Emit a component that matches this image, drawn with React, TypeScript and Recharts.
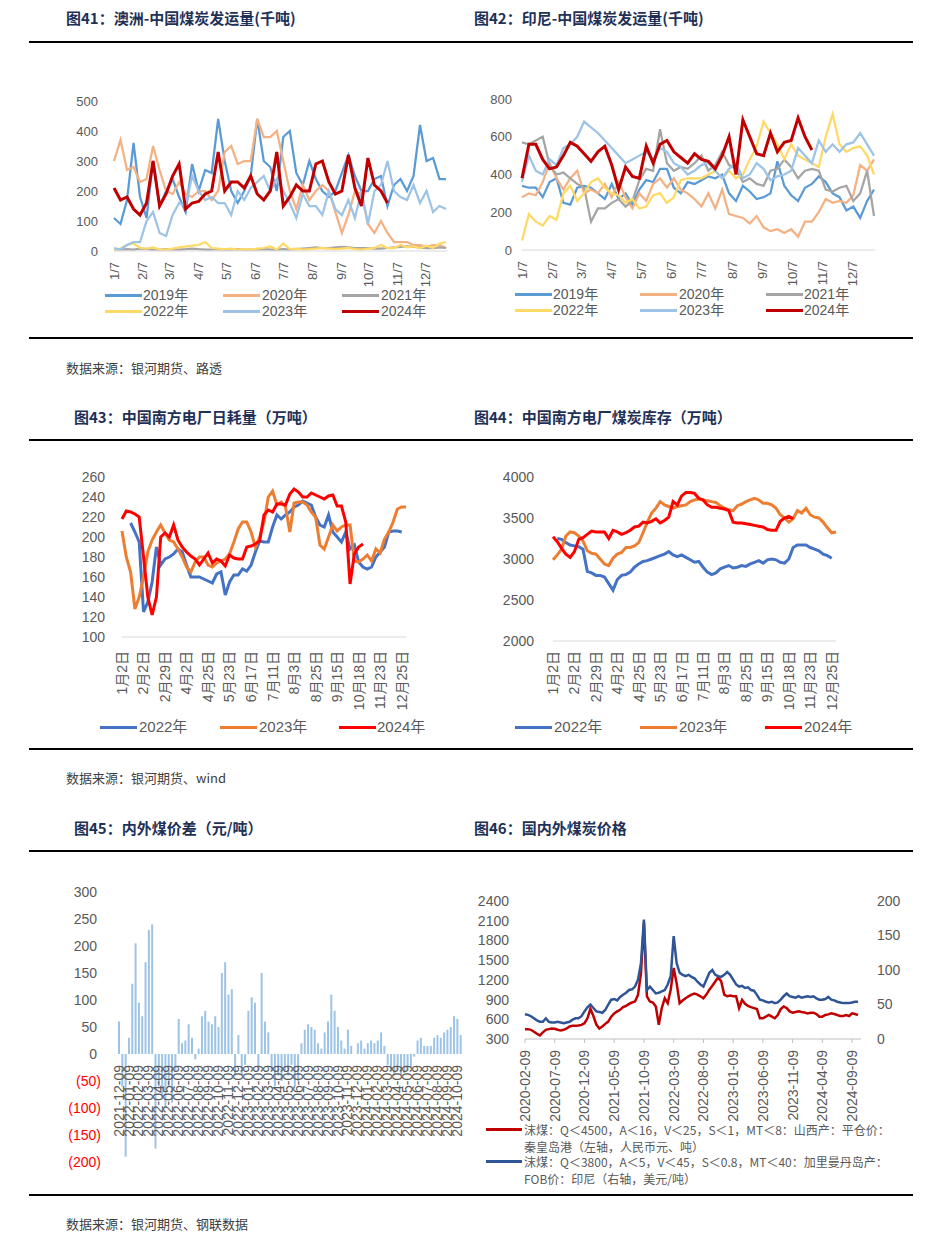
import { LineChart, Line, XAxis, YAxis, BarChart, Bar } from "recharts"

const SANS = '"Liberation Sans", "Noto Sans CJK SC", sans-serif'
const CJK = '"Noto Sans CJK SC", sans-serif'
const GRAY = "#595959"
const NAVY = "#1f3157"

// ---- 图41 / 图42: weekly, first point 1/7 ----
const MONTH_LABELS = ["1/7", "2/7", "3/7", "4/7", "5/7", "6/7", "7/7", "8/7", "9/7", "10/7", "11/7", "12/7"]
const MONTH_DAYS = [0, 31, 60, 91, 121, 152, 182, 213, 244, 274, 305, 335]
const YEAR6 = ["2019年", "2020年", "2021年", "2022年", "2023年", "2024年"]
const COLOR6 = ["#5b9bd5", "#f4b183", "#a5a5a5", "#ffd966", "#9dc3e6", "#c00000"]

const AUS_2019 = [110, 90, 170, 360, 180, 110, 300, 150, 200, 240, 180, 130, 290, 200, 270, 260, 440, 300, 200, 160, 200, 250, 440, 300, 280, 200, 380, 400, 260, 220, 300, 240, 200, 180, 200, 260, 320, 250, 200, 200, 240, 250, 150, 220, 240, 200, 250, 420, 300, 310, 240, 240]
const AUS_2020 = [300, 370, 270, 280, 230, 240, 350, 270, 200, 190, 230, 190, 180, 200, 200, 170, 200, 330, 350, 290, 300, 300, 440, 380, 380, 400, 300, 200, 140, 220, 170, 200, 220, 200, 130, 60, 120, 200, 190, 90, 60, 100, 60, 30, 30, 30, 20, 20, 15, 20, 20, 10]
const AUS_2021 = [5, 5, 6, 5, 8, 6, 5, 5, 6, 5, 5, 6, 8, 6, 5, 5, 6, 5, 5, 6, 5, 5, 5, 6, 5, 5, 6, 5, 6, 8, 10, 12, 10, 10, 12, 14, 12, 10, 10, 10, 8, 8, 10, 12, 14, 15, 14, 12, 10, 10, 12, 10]
const AUS_2022 = [5, 8, 20, 25, 10, 8, 12, 5, 5, 8, 12, 15, 18, 20, 30, 10, 8, 6, 8, 5, 6, 5, 8, 10, 15, 5, 25, 6, 8, 5, 6, 8, 10, 8, 6, 8, 10, 6, 5, 8, 10, 20, 10, 10, 20, 12, 15, 10, 18, 10, 25, 30]
const AUS_2023 = [10, 5, 20, 30, 30, 100, 130, 60, 50, 120, 160, 150, 250, 200, 170, 180, 160, 160, 120, 200, 170, 210, 230, 250, 200, 240, 200, 160, 110, 190, 150, 150, 120, 200, 140, 120, 170, 110, 200, 90, 200, 220, 300, 200, 180, 170, 220, 160, 200, 130, 150, 140]
const AUS_2024 = [210, 170, 180, 140, 120, 160, 300, 150, 190, 250, 290, 140, 160, 165, 190, 200, 330, 200, 230, 230, 210, 250, 190, 170, 200, 330, 150, 180, 220, 200, 200, 290, 300, 230, 190, 200, 320, 210, 150, 310, 220, 200, 160]

const IDN_2019 = [340, 330, 330, 280, 360, 380, 250, 240, 330, 340, 330, 300, 270, 350, 270, 300, 240, 320, 370, 360, 430, 430, 330, 300, 360, 350, 370, 390, 380, 400, 300, 260, 340, 310, 270, 280, 300, 470, 340, 290, 260, 330, 350, 390, 360, 300, 280, 210, 230, 170, 260, 320]
const IDN_2020 = [280, 300, 290, 360, 460, 380, 320, 380, 420, 300, 320, 300, 350, 280, 360, 280, 220, 300, 260, 350, 380, 330, 380, 320, 300, 270, 230, 300, 220, 320, 190, 180, 170, 140, 180, 120, 100, 110, 90, 110, 70, 150, 150, 200, 270, 250, 260, 250, 290, 450, 420, 480]
const IDN_2021 = [570, 560, 580, 600, 450, 400, 410, 380, 350, 330, 150, 220, 220, 250, 270, 230, 260, 370, 430, 420, 640, 460, 420, 440, 430, 460, 500, 420, 450, 520, 450, 430, 360, 380, 350, 340, 420, 430, 480, 440, 380, 420, 430, 420, 320, 310, 330, 340, 260, 300, 420, 180]
const IDN_2022 = [50, 190, 150, 130, 180, 160, 300, 340, 260, 300, 360, 380, 330, 300, 290, 250, 270, 220, 230, 290, 300, 250, 280, 370, 380, 380, 380, 400, 420, 380, 420, 380, 400, 480, 550, 680, 620, 560, 480, 560, 500, 480, 460, 440, 600, 720, 560, 520, 540, 550, 500, 400]
const IDN_2023 = [360, 500, 420, 400, 480, 450, 540, 560, 600, 680, 650, 620, 580, 540, 500, 460, 480, 500, 520, 480, 540, 520, 460, 440, 400, 420, 450, 460, 420, 380, 430, 460, 380, 400, 460, 430, 370, 390, 400, 420, 540, 500, 460, 580, 520, 560, 520, 560, 570, 620, 560, 500]
const IDN_2024 = [380, 560, 560, 480, 430, 440, 500, 570, 550, 510, 470, 520, 550, 450, 320, 440, 390, 380, 550, 460, 560, 580, 520, 490, 460, 510, 480, 470, 430, 500, 600, 400, 690, 600, 510, 500, 620, 520, 570, 580, 700, 600, 530]

// ---- 图43 / 图44 ----
const DATE_LABELS = ["1月2日", "2月2日", "2月29日", "4月2日", "4月25日", "5月23日", "6月17日", "7月11日", "8月3日", "8月25日", "9月15日", "10月18日", "11月23日", "12月25日"]
const YEAR3 = ["2022年", "2023年", "2024年"]
const COLOR3 = ["#4472c4", "#ed7d31", "#ff0000"]

const BURN_2022 = [null, null, 214, 205, 195, 125, 135, 155, 190, 172, 178, 180, 183, 188, 185, 172, 160, 160, 160, 158, 156, 154, 163, 165, 142, 155, 162, 162, 168, 166, 172, 185, 196, 195, 195, 210, 222, 218, 222, 225, 230, 232, 236, 234, 232, 220, 212, 210, 222, 205, 200, 195, 205, 188, 192, 175, 170, 168, 170, 180, 185, 190, 205, 206, 206, 205]
const BURN_2023 = [206, 180, 165, 128, 140, 160, 185, 197, 205, 212, 204, 197, 195, 188, 180, 170, 165, 175, 180, 180, 172, 170, 174, 176, 178, 183, 195, 208, 215, 215, 205, 190, 200, 215, 240, 246, 232, 235, 230, 205, 234, 235, 235, 232, 225, 220, 192, 188, 200, 212, 206, 210, 212, 212, 176, 175, 178, 182, 176, 188, 184, 198, 205, 215, 228, 230, 230]
const BURN_2024 = [218, 226, 225, 223, 220, 180, 140, 122, 140, 200, 204, 200, 212, 197, 190, 185, 181, 178, 172, 178, 184, 174, 178, 176, 171, 182, 179, 178, 178, 190, 191, 193, 196, 222, 227, 225, 233, 233, 232, 243, 248, 245, 240, 240, 244, 242, 240, 238, 241, 242, 231, 231, 215, 153, 183, 190, 193]

const STOCK_2022 = [null, 3250, 3240, 3200, 3170, 3160, 3150, 3120, 2850, 2830, 2800, 2800, 2780, 2700, 2620, 2750, 2800, 2810, 2840, 2900, 2940, 2970, 2980, 3000, 3020, 3040, 3060, 3090, 3050, 3030, 3050, 3020, 2990, 2960, 2970, 2900, 2840, 2810, 2830, 2880, 2900, 2920, 2890, 2900, 2920, 2910, 2940, 2960, 2980, 2950, 2990, 3000, 2990, 2960, 2950, 3000, 3140, 3170, 3170, 3170, 3140, 3120, 3100, 3060, 3040, 3010]
const STOCK_2023 = [2990, 3050, 3120, 3280, 3330, 3320, 3280, 3220, 3100, 3070, 3060, 3000, 2940, 2920, 3010, 3060, 3080, 3140, 3140, 3160, 3200, 3320, 3450, 3560, 3620, 3700, 3660, 3640, 3620, 3640, 3650, 3660, 3700, 3720, 3730, 3720, 3710, 3700, 3690, 3650, 3620, 3600, 3590, 3650, 3670, 3700, 3720, 3740, 3720, 3680, 3680, 3660, 3620, 3540, 3500, 3450, 3490, 3590, 3560, 3620, 3540, 3510, 3500, 3450, 3380, 3320, 3330]
const STOCK_2024 = [3270, 3210, 3130, 3060, 3020, 3090, 3240, 3260, 3300, 3340, 3330, 3330, 3330, 3250, 3350, 3330, 3300, 3320, 3350, 3390, 3400, 3450, 3440, 3460, 3490, 3440, 3470, 3510, 3700, 3660, 3770, 3810, 3810, 3800, 3740, 3720, 3660, 3630, 3630, 3620, 3610, 3590, 3450, 3440, 3440, 3430, 3420, 3410, 3400, 3390, 3360, 3350, 3350, 3460, 3500, 3520, 3490]

// ---- 图45: 3 points per month from 2021-12-09 ----
const GAP_MONTHS = ["2021-12-09", "2022-01-09", "2022-02-09", "2022-03-09", "2022-04-09", "2022-05-09", "2022-06-09", "2022-07-09", "2022-08-09", "2022-09-09", "2022-10-09", "2022-11-09", "2022-12-09", "2023-01-09", "2023-02-09", "2023-03-09", "2023-04-09", "2023-05-09", "2023-06-09", "2023-07-09", "2023-08-09", "2023-09-09", "2023-10-09", "2023-11-09", "2023-12-09", "2024-01-09", "2024-02-09", "2024-03-09", "2024-04-09", "2024-05-09", "2024-06-09", "2024-07-09", "2024-08-09", "2024-09-09", "2024-10-09"]
const PRICE_GAP = [60, -60, -190, 30, 130, 205, 95, 70, 170, 230, 240, -175, -60, -80, -100, -60, -90, -30, 65, 20, 25, 55, 30, -10, 10, 70, 80, 60, 55, 70, 50, 150, 170, 110, 120, -40, 35, -40, -20, 80, 105, 95, -30, 150, 60, 40, -30, -60, -40, -50, -30, -40, -20, -60, -50, 20, 45, 55, 50, 45, 20, 10, 40, 60, 110, 80, 50, 25, 10, 45, 15, 0, 20, 25, 10, 20, 25, 20, 25, 40, 15, -20, -30, -40, -30, -40, -35, -30, -25, -5, 25, 30, 15, 15, 15, 30, 35, 30, 40, 45, 50, 70, 65, 35]

// ---- 图46: half-monthly from 2020-02-09 ----
const PRICE_TICK_LABELS = ["2020-02-09", "2020-07-09", "2020-12-09", "2021-05-09", "2021-10-09", "2022-03-09", "2022-08-09", "2023-01-09", "2023-06-09", "2023-11-09", "2024-04-09", "2024-09-09"]
const SHANXI_CNY = [450, 450, 440, 410, 380, 355, 400, 440, 450, 460, 455, 440, 430, 440, 460, 490, 500, 500, 505, 515, 540, 615, 760, 650, 520, 460, 490, 530, 565, 640, 690, 720, 745, 785, 805, 835, 855, 870, 970, 1300, 2070, 950, 870, 855, 795, 515, 770, 920, 845, 1050, 1380, 1150, 845, 885, 920, 950, 975, 990, 975, 950, 920, 975, 1050, 1110, 1175, 1240, 1175, 975, 950, 960, 950, 950, 770, 895, 835, 805, 785, 770, 755, 615, 615, 640, 665, 640, 615, 665, 755, 795, 770, 720, 700, 710, 720, 710, 705, 690, 700, 700, 680, 640, 640, 665, 675, 690, 680, 665, 650, 650, 665, 650, 690, 680, 665]
const INDO_USD = [36, 35, 33, 30, 27, 25, 25, 30, 25, 24, 24, 25, 24, 23, 24, 25, 28, 30, 30, 33, 40, 46, 50, 45, 40, 39, 38, 42, 50, 57, 58, 56, 61, 64, 67, 71, 72, 76, 86, 110, 173, 71, 76, 71, 66, 67, 69, 71, 79, 91, 149, 110, 96, 93, 91, 93, 90, 88, 83, 79, 76, 86, 96, 100, 93, 91, 90, 93, 97, 93, 86, 79, 76, 77, 74, 75, 71, 70, 64, 57, 56, 54, 53, 54, 52, 53, 57, 62, 66, 62, 61, 60, 62, 60, 61, 62, 61, 62, 59, 57, 57, 58, 61, 57, 56, 54, 53, 52, 52, 52, 53, 54, 54]

function buildRows(series: (number | null)[][], step: number) {
  const n = Math.max(...series.map(s => s.length))
  return Array.from({ length: n }, (_, i) => {
    const r: Record<string, number | null> = { d: i * step }
    series.forEach((s, k) => { r["s" + k] = s[i] ?? null })
    return r
  })
}

const rows41 = buildRows([AUS_2019, AUS_2020, AUS_2021, AUS_2022, AUS_2023, AUS_2024], 7)
const rows42 = buildRows([IDN_2019, IDN_2020, IDN_2021, IDN_2022, IDN_2023, IDN_2024], 7)
const rows43 = buildRows([BURN_2022, BURN_2023, BURN_2024], 1)
const rows44 = buildRows([STOCK_2022, STOCK_2023, STOCK_2024], 1)
const rows45 = PRICE_GAP.map((v, i) => ({ i, v }))
const rows46 = SHANXI_CNY.map((v, i) => ({ d: i, cny: v, usd: INDO_USD[i] }))

// rotated category label
function RotTick(props: any) {
  const { x, y, payload, fmt, gap, fontSize, shift = 0 } = props
  return (
    <g transform={`translate(${x},${y - shift})`}>
      <text transform="rotate(-90)" x={-gap} y={0} dy="0.35em" textAnchor="end" fill={GRAY} fontSize={fontSize} fontFamily={SANS}>
        {fmt(payload.value)}
      </text>
    </g>
  )
}

function GapTick(props: any) {
  const { x, y, payload } = props
  const v = payload.value as number
  const neg = v < 0
  return (
    <text x={neg ? x : x - 4} y={y} dy="0.35em" textAnchor="end" fill={neg ? "#ff0000" : GRAY} fontSize={14} fontFamily={SANS}>
      {neg ? `(${-v})` : v}
    </text>
  )
}

function LegendItem({ x, tx, y, color, label, size, w = 37 }: { x: number; tx: number; y: number; color: string; label: string; size: number; w?: number }) {
  return (
    <>
      <div style={{ position: "absolute", left: x, top: y - 1.5, width: w, height: 3, background: color }} />
      <div style={{ position: "absolute", left: tx, top: y - 10, lineHeight: "20px", fontSize: size, color: GRAY, fontFamily: SANS, whiteSpace: "nowrap" }}>{label}</div>
    </>
  )
}

function Rule({ top }: { top: number }) {
  return <div style={{ position: "absolute", left: 29, top, width: 884, height: 2, background: "#000" }} />
}

function Title({ left, top, children }: { left: number; top: number; children: string }) {
  return (
    <div style={{ position: "absolute", left, top: top - 10, lineHeight: "20px", fontSize: 15, fontWeight: 700, color: NAVY, fontFamily: CJK, whiteSpace: "nowrap" }}>{children}</div>
  )
}

function Source({ top, children }: { top: number; children: string }) {
  return (
    <div style={{ position: "absolute", left: 66, top: top - 10, lineHeight: "20px", fontSize: 13, color: "#404040", fontFamily: CJK, whiteSpace: "nowrap" }}>{children}</div>
  )
}

const monthFmt = (v: number) => MONTH_LABELS[MONTH_DAYS.indexOf(v)] ?? ""
const dateFmt = (v: number) => DATE_LABELS[Math.round(v / 5)] ?? ""
const gapFmt = (v: number) => GAP_MONTHS[Math.round(v / 3)] ?? ""
const priceFmt = (v: number) => PRICE_TICK_LABELS[Math.round(v / 10)] ?? ""

const DATE_TICKS = DATE_LABELS.map((_, i) => i * 5)
const PRICE_TICKS = PRICE_TICK_LABELS.map((_, i) => i * 10)

function SeasonChart({ rows, max, step, width, height, yWidth, yMargin }: { rows: any[]; max: number; step: number; width: number; height: number; yWidth: number; yMargin: number }) {
  const yTicks = Array.from({ length: max / step + 1 }, (_, i) => i * step)
  return (
    <LineChart width={width} height={height} data={rows} margin={{ top: 11, right: 5, left: 0, bottom: 0 }}>
      <XAxis type="number" dataKey="d" domain={[0, 358]} ticks={MONTH_DAYS} interval={0} height={37}
        axisLine={{ stroke: "#d9d9d9" }} tickLine={false} tickSize={0} tickMargin={0}
        tick={(p: any) => <RotTick {...p} fmt={monthFmt} gap={11} fontSize={13} />} />
      <YAxis type="number" domain={[0, max]} ticks={yTicks} interval={0} width={yWidth} axisLine={false} tickLine={false}
        tickMargin={yMargin} tick={{ fontSize: 13, fill: GRAY, fontFamily: SANS }} />
      {COLOR6.map((c, k) => (
        <Line key={k} dataKey={"s" + k} stroke={c} strokeWidth={k === 5 ? 3 : 2.25} dot={false} isAnimationActive={false} connectNulls={false} />
      ))}
    </LineChart>
  )
}

function PlantChart({ rows, min, max, step, width, height, yWidth, yMargin, gap }: { rows: any[]; min: number; max: number; step: number; width: number; height: number; yWidth: number; yMargin: number; gap: number }) {
  const yTicks = Array.from({ length: (max - min) / step + 1 }, (_, i) => min + i * step)
  return (
    <LineChart width={width} height={height} data={rows} margin={{ top: 11, right: 5, left: 0, bottom: 0 }}>
      <XAxis type="number" dataKey="d" domain={[0, 66]} ticks={DATE_TICKS} interval={0} height={85}
        axisLine={{ stroke: "#d9d9d9" }} tickLine={false} tickSize={0} tickMargin={0}
        tick={(p: any) => <RotTick {...p} fmt={dateFmt} gap={gap} fontSize={14} />} />
      <YAxis type="number" domain={[min, max]} ticks={yTicks} interval={0} width={yWidth} axisLine={false} tickLine={false}
        tickMargin={yMargin} tick={{ fontSize: 14, fill: GRAY, fontFamily: SANS }} />
      {COLOR3.map((c, k) => (
        <Line key={k} dataKey={"s" + k} stroke={c} strokeWidth={3} dot={false} isAnimationActive={false} connectNulls={false} />
      ))}
    </LineChart>
  )
}

export default function App() {
  const h45 = 297
  const plotH45 = h45 - 12 - 15
  const shift45 = plotH45 * 200 / 500
  return (
    <div style={{ position: "absolute", left: 0, top: 0, width: 943, height: 1237, background: "#fff", overflow: "hidden" }}>
      <Title left={66} top={18}>图41：澳洲-中国煤炭发运量(千吨)</Title>
      <Title left={474} top={18}>图42：印尼-中国煤炭发运量(千吨)</Title>
      <Rule top={41} />

      <div style={{ position: "absolute", left: 60, top: 90 }}>
        <SeasonChart rows={rows41} max={500} step={100} width={392} height={198} yWidth={54} yMargin={10} />
      </div>
      {YEAR6.map((y, k) => (
        <LegendItem key={y} x={[105, 223, 342][k % 3]} tx={[143, 262, 381][k % 3]} y={k < 3 ? 295 : 311} color={COLOR6[k]} label={y} size={14} />
      ))}

      <div style={{ position: "absolute", left: 470, top: 88 }}>
        <SeasonChart rows={rows42} max={800} step={200} width={410} height={199} yWidth={52} yMargin={4} />
      </div>
      {YEAR6.map((y, k) => (
        <LegendItem key={y} x={[515, 640, 766][k % 3]} tx={[553, 679, 804][k % 3]} y={k < 3 ? 294 : 310} color={COLOR6[k]} label={y} size={14} />
      ))}

      <Rule top={337} />
      <Source top={368}>数据来源：银河期货、路透</Source>

      <Title left={74} top={417}>图43：中国南方电厂日耗量（万吨）</Title>
      <Title left={474} top={417}>图44：中国南方电厂煤炭库存（万吨）</Title>
      <Rule top={439} />

      <div style={{ position: "absolute", left: 60, top: 466 }}>
        <PlantChart rows={rows43} min={100} max={260} step={20} width={351} height={256} yWidth={62} yMargin={11} gap={14} />
      </div>
      {YEAR3.map((y, k) => (
        <LegendItem key={y} x={[100, 220, 339][k]} tx={[139, 259, 377][k]} y={727} color={COLOR3[k]} label={y} size={15} />
      ))}

      <div style={{ position: "absolute", left: 490, top: 466 }}>
        <PlantChart rows={rows44} min={2000} max={4000} step={500} width={351} height={260} yWidth={63} yMargin={13} gap={10} />
      </div>
      {YEAR3.map((y, k) => (
        <LegendItem key={y} x={[515, 640, 765][k]} tx={[554, 679, 804][k]} y={727} color={COLOR3[k]} label={y} size={15} />
      ))}

      <Rule top={748} />
      <Source top={778}>数据来源：银河期货、wind</Source>

      <Title left={74} top={828}>图45：内外煤价差（元/吨）</Title>
      <Title left={474} top={828}>图46：国内外煤炭价格</Title>
      <Rule top={850} />

      <div style={{ position: "absolute", left: 60, top: 880 }}>
        <BarChart width={407} height={h45} data={rows45} margin={{ top: 12, right: 5, left: 0, bottom: 10 }} barCategoryGap={0}>
          <XAxis dataKey="i" interval={2} height={5} axisLine={false} tickLine={false} tickSize={0} tickMargin={0}
            tick={(p: any) => <RotTick {...p} fmt={gapFmt} gap={11} fontSize={14} shift={shift45} />} />
          <YAxis type="number" domain={[-200, 300]} ticks={[-200, -150, -100, -50, 0, 50, 100, 150, 200, 250, 300]} interval={0}
            width={57} axisLine={false} tickLine={false} tickMargin={10} tick={(p: any) => <GapTick {...p} />} />
          <Bar dataKey="v" fill="#9dc3e6" barSize={2} isAnimationActive={false} />
        </BarChart>
      </div>

      <div style={{ position: "absolute", left: 470, top: 890 }}>
        <LineChart width={431} height={239} data={rows46} margin={{ top: 11, right: 0, left: 0, bottom: 0 }}>
          <XAxis type="number" dataKey="d" domain={[0, 113]} ticks={PRICE_TICKS} interval={0} height={90}
            axisLine={{ stroke: "#bfbfbf" }} tickLine={{ stroke: "#bfbfbf" }} tickSize={4} tickMargin={0}
            tick={(p: any) => <RotTick {...p} fmt={priceFmt} gap={7} fontSize={14} />} />
          <YAxis yAxisId="l" type="number" domain={[300, 2400]} ticks={[300, 600, 900, 1200, 1500, 1800, 2100, 2400]} interval={0}
            width={55} axisLine={false} tickLine={false} tickMargin={10} tick={{ fontSize: 14, fill: GRAY, fontFamily: SANS }} />
          <YAxis yAxisId="r" orientation="right" type="number" domain={[0, 200]} ticks={[0, 50, 100, 150, 200]} interval={0}
            width={40} axisLine={false} tickLine={false} tickMargin={10} tick={{ fontSize: 14, fill: GRAY, fontFamily: SANS }} />
          <Line yAxisId="l" dataKey="cny" stroke="#c00000" strokeWidth={2.5} dot={false} isAnimationActive={false} />
          <Line yAxisId="r" dataKey="usd" stroke="#2f5597" strokeWidth={2.5} dot={false} isAnimationActive={false} />
        </LineChart>
      </div>
      <div style={{ position: "absolute", left: 486, top: 1128, width: 36, height: 3, background: "#c00000" }} />
      <div style={{ position: "absolute", left: 524, top: 1121, fontSize: 12, lineHeight: "17px", color: GRAY, fontFamily: CJK, whiteSpace: "nowrap" }}>
        <div>沫煤：Q＜4500，A＜16，V＜25，S＜1，MT＜8：山西产：平仓价：</div>
        <div>秦皇岛港（左轴，人民币元、吨）</div>
      </div>
      <div style={{ position: "absolute", left: 486, top: 1160, width: 36, height: 3, background: "#2f5597" }} />
      <div style={{ position: "absolute", left: 524, top: 1153, fontSize: 12, lineHeight: "17px", color: GRAY, fontFamily: CJK, whiteSpace: "nowrap" }}>
        <div>沫煤：Q＜3800，A＜5，V＜45，S＜0.8，MT＜40：加里曼丹岛产：</div>
        <div>FOB价：印尼（右轴，美元/吨）</div>
      </div>

      <Rule top={1194} />
      <Source top={1224}>数据来源：银河期货、钢联数据</Source>
    </div>
  )
}
